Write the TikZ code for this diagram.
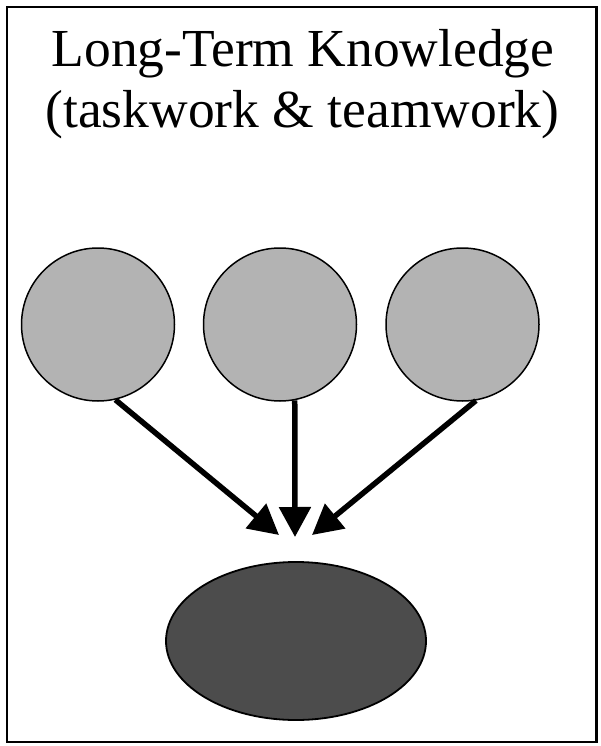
\documentclass[tikz,border=0pt]{standalone}
\usepackage{fontspec}
\setmainfont{Liberation Serif}
\usetikzlibrary{arrows.meta,shapes.geometric}
\definecolor{lightball}{RGB}{179,179,179}
\definecolor{darkball}{RGB}{76,76,76}
\tikzset{
  ball/.style={circle,draw=black,line width=1.5pt,fill=lightball,minimum size=153pt,inner sep=0pt},
  bigball/.style={ellipse,draw=black,line width=1.8pt,fill=darkball,minimum width=260pt,minimum height=158pt,inner sep=0pt},
  title/.style={font=\fontsize{53.5}{61}\selectfont,anchor=base,inner sep=0pt},
  link/.style={line width=5.5pt,-{Triangle[length=30pt,width=31pt]}}
}
\begin{document}
\begin{tikzpicture}[x=1pt,y=-1pt]
\useasboundingbox (0,0) rectangle (600,746);
\draw[line width=2.5pt] (7,7) rectangle (596.5,742);
\node[title] (t1) at (303,67) {Long-Term Knowledge};
\node[title] (t2) at (302.5,128) {(taskwork \& teamwork)};
\node[ball] (c1) at (98,324.5) {};
\node[ball] (c2) at (280,324.5) {};
\node[ball] (c3) at (462.5,324.5) {};
\node[bigball] (e) at (296,641) {};
\coordinate (tipL) at (279,535);
\coordinate (tipM) at (295,537);
\coordinate (tipR) at (312,535);
\draw[link] (c1.-77.6) -- (tipL);
\draw[link] (c2.-79) -- (tipM);
\draw[link] (c3.-80.8) -- (tipR);
\end{tikzpicture}
\end{document}
